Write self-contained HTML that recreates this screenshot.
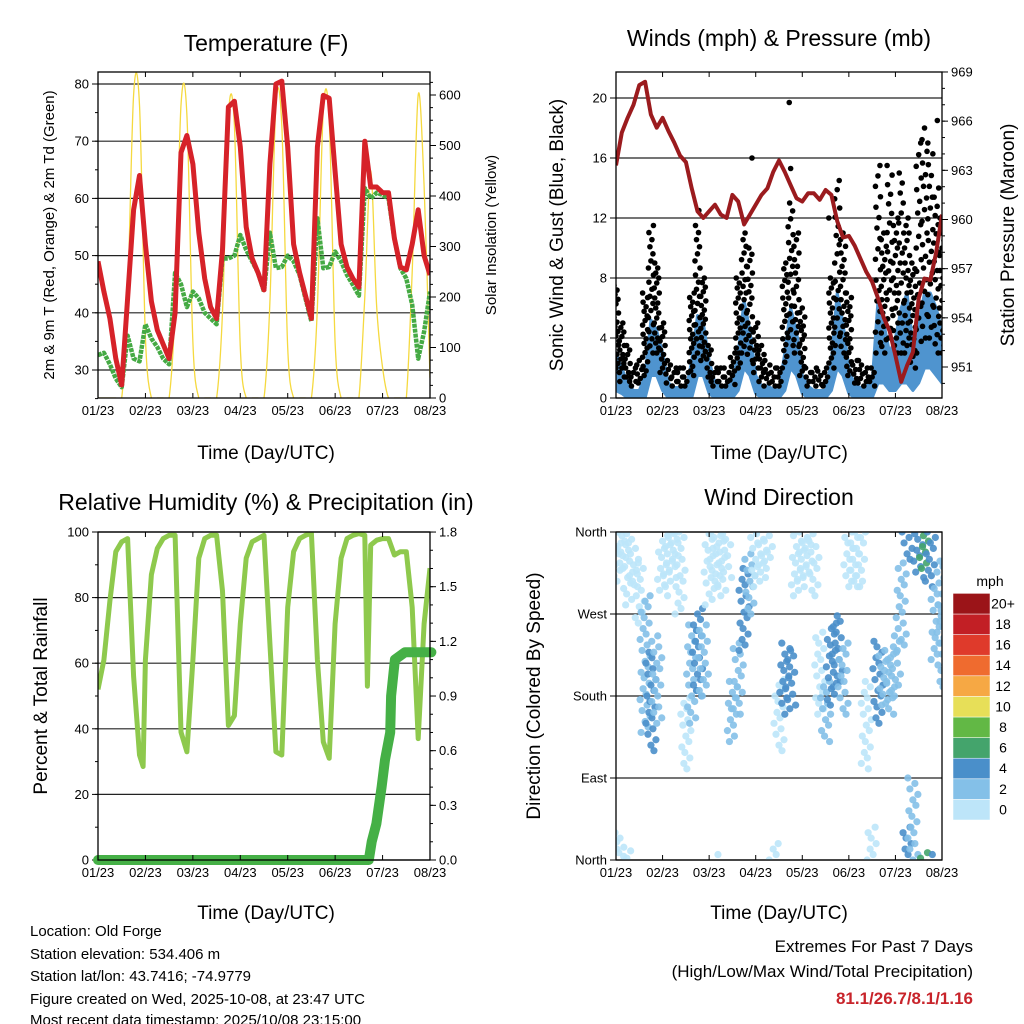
<!DOCTYPE html>
<html><head><meta charset="utf-8">
<style>
html,body{margin:0;padding:0;background:#fff;}
svg{display:block;font-family:"Liberation Sans",Arial,sans-serif;}
</style></head>
<body>
<svg id="root" width="1024" height="1024" viewBox="0 0 1024 1024" xmlns="http://www.w3.org/2000/svg">
<defs>
<clipPath id="c1"><rect x="98" y="72" width="332" height="326"/></clipPath>
<clipPath id="c2"><rect x="616" y="72" width="326" height="326"/></clipPath>
<clipPath id="c3"><rect x="98" y="532" width="332" height="328"/></clipPath>
<clipPath id="c4"><rect x="616" y="532" width="326" height="328"/></clipPath>
</defs>
<text x="266" y="51" font-size="23" text-anchor="middle">Temperature (F)</text>
<text x="779" y="46" font-size="23" text-anchor="middle">Winds (mph) &amp; Pressure (mb)</text>
<text x="266" y="510" font-size="23" text-anchor="middle">Relative Humidity (%) &amp; Precipitation (in)</text>
<text x="779" y="505" font-size="23" text-anchor="middle">Wind Direction</text>
<text transform="translate(54,235) rotate(-90)" font-size="15" text-anchor="middle">2m &amp; 9m T (Red, Orange) &amp; 2m Td (Green)</text>
<text transform="translate(496,235) rotate(-90)" font-size="15" text-anchor="middle">Solar Insolation (Yellow)</text>
<text transform="translate(563,235) rotate(-90)" font-size="19" text-anchor="middle">Sonic Wind &amp; Gust (Blue, Black)</text>
<text transform="translate(1014,235) rotate(-90)" font-size="19" text-anchor="middle">Station Pressure (Maroon)</text>
<text transform="translate(47,696) rotate(-90)" font-size="19" text-anchor="middle">Percent &amp; Total Rainfall</text>
<text transform="translate(540,696) rotate(-90)" font-size="19" text-anchor="middle">Direction (Colored By Speed)</text>
<text x="266" y="459" font-size="19" text-anchor="middle">Time (Day/UTC)</text>
<text x="779" y="459" font-size="19" text-anchor="middle">Time (Day/UTC)</text>
<text x="266" y="919" font-size="19" text-anchor="middle">Time (Day/UTC)</text>
<text x="779" y="919" font-size="19" text-anchor="middle">Time (Day/UTC)</text>
<g font-size="15">
<text x="30" y="936">Location: Old Forge</text>
<text x="30" y="959">Station elevation: 534.406 m</text>
<text x="30" y="981">Station lat/lon: 43.7416; -74.9779</text>
<text x="30" y="1004">Figure created on Wed, 2025-10-08, at 23:47 UTC</text>
<text x="30" y="1025">Most recent data timestamp: 2025/10/08 23:15:00</text>
</g>
<text x="973" y="952" font-size="17" text-anchor="end">Extremes For Past 7 Days</text>
<text x="973" y="977" font-size="17" text-anchor="end">(High/Low/Max Wind/Total Precipitation)</text>
<text x="973" y="1004" font-size="17" font-weight="bold" fill="#c8242b" text-anchor="end">81.1/26.7/8.1/1.16</text>
<text x="990" y="586" font-size="14" text-anchor="middle">mph</text>
</svg>
<script>
// ---- data (3-hourly, days 0..7) ----
const dayLabels = ["01/23","02/23","03/23","04/23","05/23","06/23","07/23","08/23"];
const tempRed = [49,43.7,39,32,27.4,42.5,58,64, 52,42,37,34.5,32,40,68,71, 66,54,46,41,39,51,76,77, 69,55,49.5,47,44,66,80,80.5, 69,52,47,43,39,69,78,77.5, 64.7,52,48,46,44.5,70,62,62, 61,61,53,48,47.5,52,58,50, 46.6];
const dewGreen = [32.6,33,31,28.5,27,36,32,31.5, 38,35.5,34,32,31,47,45,41, 43.7,42.5,40,39,38,49.5,49.5,50, 53.6,51,49,47,43.7,54,47.8,48, 50,49,46.6,42.5,38.5,56.5,47.8,48, 50.7,49,46.6,44.9,43,61.8,60,61, 60.6,60,53,47.8,46,41.4,32,36.7, 43.7];
const solar = [0,0,0,0,0,200,600,580, 120,0,0,0,0,180,580,560, 110,0,0,0,0,170,560,540, 100,0,0,0,0,190,580,540, 100,0,0,0,0,180,570,550, 110,0,0,0,0,200,450,180, 60,0,0,0,0,250,600,420, 40];
const pressure = [963.3,965.3,966.2,967,968.2,968.4,966.4,965.6, 966.2,965.4,964.7,963.9,963.5,961.9,960.5,960.1, 960.5,960.9,960.3,960.1,961.5,961.1,959.7,960.3, 960.9,961.5,961.9,962.9,963.6,962.9,962.1,961.3, 961.1,961.6,961.6,961.2,961.8,961.5,959.9,958.9, 959.0,958.4,957.6,956.8,956.2,955.2,954,953.2, 951.7,950.1,951.1,951.9,955.2,956.4,956.3,958.0, 960.3];
const windHi = [3,2,1,0.5,0.5,1.5,5.2,4.5, 3,1,0.7,0.7,0.5,2.5,5.5,5, 2.5,1,0.8,0.8,1,3,6.5,4.5, 1.5,0.8,0.8,0.6,0.5,3,6,4.5, 1.5,0.8,0.5,0.5,0.5,2.5,7,5, 2,0.8,0.7,0.8,1,6.5,5,3, 4,6,7,3.5,5,7,7,6, 4.5];
const windLo = [0.5,0.3,0,0,0,0,1.5,1.5, 0.5,0,0,0,0,0,1.5,1.5, 0.3,0,0,0,0,0.5,2,1.5, 0.3,0,0,0,0,0.5,2,1.5, 0.3,0,0,0,0,0.5,2,1.5, 0.3,0,0,0,0,1,1,0.5, 0.5,1,1,0.5,1,2,2,1.5, 1];
const gustHi = [7.5,5,3.5,2,2.5,7,11.5,9, 5,2.5,2,2,2,7,11.5,8, 3.5,2,2,2,3,8,11,10, 5,3.5,2.5,2,2,9,13,11, 6,2,2,1.8,2,8,14.5,11, 7,2.5,2.5,2,2,15.5,11,15.5, 12,15,12,9,17,18,17,14, 12];
const gustLo = [2,1,1,0.8,0.8,1.5,3,3, 1.5,0.8,0.8,0.8,0.8,1.5,3,2.5, 1,0.8,0.8,0.8,0.8,2,3,2.5, 1.5,0.8,0.8,0.8,0.8,2,3.5,3, 1.5,0.8,0.8,0.8,0.8,2,3.5,3, 1.5,0.8,0.8,0.8,0.8,3,3,4, 3,3,3,2,3,4,4,3, 3];
const gustOutDay = [3.72,2.92,3.75,1.78,4.57,6.9];
const gustOutVal = [19.7,16,15.3,12.5,12,18.5];
const rhDays = [0,0.125,0.25,0.375,0.5,0.625,0.75,0.875,0.95,1.0,1.125,1.25,1.375,1.5,1.625,1.75,1.875,2.0,2.125,2.25,2.375,2.5,2.625,2.75,2.875,3.0,3.125,3.25,3.375,3.5,3.625,3.75,3.875,4.0,4.125,4.25,4.375,4.5,4.625,4.75,4.875,5.0,5.125,5.25,5.375,5.5,5.625,5.68,5.75,5.875,6.0,6.125,6.25,6.375,6.5,6.625,6.75,6.875,7.0];
const rhVals = [52,61,79,94,97,98,56,32,28.5,61,87,95,98,99,99,39,33,61,92,98,99,99,82,41,44,72,92,97,98,99,66,33,32,77,94,98,99,99.6,61,36,31,72,92,98,99,99.5,99,53,96,97.5,98,98,93,94,94,77,37,72,89];
const precipDays = [0,5.71,5.77,5.87,5.98,6.05,6.16,6.18,6.26,6.47,7.03];
const precipVals = [0,0,0.1,0.2,0.4,0.55,0.7,0.9,1.1,1.14,1.14];
const dirLo = [300,320,280,300,260,140,120,150, 290,300,310,270,100,150,180,180, 280,300,290,310,130,160,230,270, 300,310,320,0,120,160,170,290, 300,310,290,160,130,170,190,160, 300,300,300,100,0,150,170,160, 180,230,330,0,310,320,300,220, 190];
const dirHi = [390,380,370,350,330,290,230,250, 360,360,360,360,180,260,280,260, 360,370,360,360,200,240,320,340, 360,360,360,20,200,240,230,360, 360,360,350,250,200,260,270,240, 360,360,360,200,40,240,230,230, 250,330,400,90,360,370,370,300, 330];
const dirSpd = [1,1,0.5,0.5,0.5,2,4,3, 0.5,0.5,0.3,0.3,1,3,4,3, 0.5,0.5,0.5,0.3,2,3,4,3, 1,0.5,0.3,0.3,1.5,4,4,1, 0.5,0.5,0.5,1.5,2,4,5,3, 0.5,0.5,1,1,1,4,3,3, 2,3,4,3,4,6,5,3, 2];
const speedLabels = ["0","2","4","6","8","10","12","14","16","18","20+"];
const speedColors = ["#bde5f9","#84c0e8","#4a8fca","#44a46c","#62b845","#e7df58","#f6a844","#ef6b2f","#df3a2b","#c21f25","#9b1418"];

const NS = "http://www.w3.org/2000/svg";
const root = document.getElementById("root");
function mk(tag, attrs, parent){ const e=document.createElementNS(NS,tag); for(const k in attrs) e.setAttribute(k,attrs[k]); (parent||root).appendChild(e); return e; }
function smooth(pts){ let d="M"+pts[0][0].toFixed(1)+","+pts[0][1].toFixed(1);
  for(let i=0;i<pts.length-1;i++){ const p0=pts[i-1]||pts[i], p1=pts[i], p2=pts[i+1], p3=pts[i+2]||p2;
    const c1=[p1[0]+(p2[0]-p0[0])/6, p1[1]+(p2[1]-p0[1])/6], c2=[p2[0]-(p3[0]-p1[0])/6, p2[1]-(p3[1]-p1[1])/6];
    d+=" C"+c1[0].toFixed(1)+","+c1[1].toFixed(1)+" "+c2[0].toFixed(1)+","+c2[1].toFixed(1)+" "+p2[0].toFixed(1)+","+p2[1].toFixed(1); }
  return d; }
function poly(pts){ return "M"+pts.map(p=>p[0].toFixed(1)+","+p[1].toFixed(1)).join(" L"); }
const step = i=>i/8;

// scales
const X1=d=>98+d*47.43, X2=d=>616+d*46.57;
const yT=v=>370-(v-30)*5.72, yS=v=>398-v*0.505;
const yW=v=>398-v*15, yP=v=>367-(v-951)*16.39;
const yR=v=>860-v*3.28, yPr=v=>860-v*182.2;
const yD=v=>860-v*0.9111;

function frame(x0,y0,x1,y1,name){
  const r=mk("rect",{x:x0,y:y0,width:x1-x0,height:y1-y0,fill:"none",stroke:"#000","stroke-width":1.3});
  
  
}
function xAxis(X,y0,y1,name){
  const g=mk("g",{});
  
  
  dayLabels.forEach((lab,i)=>{ const x=X(i);
    mk("line",{x1:x,x2:x,y1:y1,y2:y1-5,stroke:"#000","stroke-width":1},g);
    mk("line",{x1:x,x2:x,y1:y0,y2:y0+5,stroke:"#000","stroke-width":1},g);
    const t=mk("text",{x:x,y:y1+17,"font-size":13,"text-anchor":"middle"},g); t.textContent=lab; });
}
function yAxis(ticks, minors, Y, x, side, grid, x0, x1, name, fmt){
  const g=mk("g",{});
  
  
  const dir = side==="left"?-1:1;
  minors.forEach(v=>{ const y=Y(v); mk("line",{x1:x,x2:x+dir*3,y1:y,y2:y,stroke:"#000","stroke-width":1},g); });
  ticks.forEach(v=>{ const y=Y(v);
    if(grid) mk("line",{x1:x0,x2:x1,y1:y,y2:y,stroke:"#222","stroke-width":1.2},g);
    mk("line",{x1:x,x2:x+dir*6,y1:y,y2:y,stroke:"#000","stroke-width":1},g);
    const t=mk("text",{x:x+dir*9,y:y+4.5,"font-size":13,"text-anchor":side==="left"?"end":"start"},g);
    t.textContent=fmt?fmt(v):String(v); });
}
const range=(a,b,s)=>{const r=[];for(let v=a;v<=b+1e-9;v+=s)r.push(+v.toFixed(3));return r;};

// ===== Panel 1 =====
yAxis(range(30,80,10),range(25,80,5),yT,98,"left",true,98,430,"temperature-y-axis");
yAxis(range(0,600,100),range(0,625,25),yS,430,"right",false,0,0,"solar-y-axis");
const g1=mk("g",{"clip-path":"url(#c1)"});
const pSol=mk("path",{d:smooth(solar.map((v,i)=>[X1(step(i)),yS(v)])),fill:"none",stroke:"#f5d93f","stroke-width":1.3},g1);


const pDew=mk("path",{d:poly(dewGreen.map((v,i)=>[X1(step(i)),yT(v)])),fill:"none",stroke:"#45aa44","stroke-width":4.5,"stroke-dasharray":"4 1","stroke-linejoin":"round"},g1);


const pT=mk("path",{d:poly(tempRed.map((v,i)=>[X1(step(i)),yT(v)])),fill:"none",stroke:"#d62229","stroke-width":5,"stroke-linejoin":"round"},g1);


xAxis(X1,72,398,"temperature-x-axis");
frame(98,72,430,398,"temperature-plot-frame");

// ===== Panel 2 =====
yAxis(range(0,20,4),[],yW,616,"left",true,616,942,"wind-y-axis");
yAxis(range(951,969,3),range(950,969,1),yP,942,"right",false,0,0,"pressure-y-axis");
const g2=mk("g",{"clip-path":"url(#c2)"});
const bandTop=windHi.map((v,i)=>[X2(step(i)),yW(v)]), bandBot=windLo.map((v,i)=>[X2(step(i)),yW(v)]).reverse();
const band=mk("path",{d:"M"+bandTop.concat(bandBot).map(p=>p[0].toFixed(1)+","+p[1].toFixed(1)).join(" L")+"Z",fill:"#4f94cf",stroke:"#4f94cf","stroke-width":3,"stroke-linejoin":"round"},g2);


const gg=mk("g",{fill:"#000"},g2);


const offs=[-2,1,-1,2,0,-2.5,2.5];
gustHi.forEach((hi,i)=>{ const lo=gustLo[i]; const ya=yW(hi), yb=yW(lo); let k=i;
  const st=Math.max(4.5,(yb-ya)/18);
  for(let y=ya;y<=yb+0.1;y+=st){ mk("circle",{cx:X2(step(i))+offs[k%7],cy:y,r:2.8},gg); k++; } });
gustOutDay.forEach((d,i)=>{ mk("circle",{cx:X2(d),cy:yW(gustOutVal[i]),r:2.8},gg); });
const pPr=mk("path",{d:poly(pressure.map((v,i)=>[X2(step(i)),yP(v)])),fill:"none",stroke:"#9b1b1e","stroke-width":4,"stroke-linejoin":"round"},g2);


xAxis(X2,72,398,"winds-x-axis");
frame(616,72,942,398,"winds-plot-frame");

// ===== Panel 3 =====
yAxis(range(0,100,20),range(0,100,10),yR,98,"left",true,98,430,"humidity-y-axis");
yAxis(range(0,1.8,0.3),range(0,1.8,0.1),yPr,430,"right",false,0,0,"precip-y-axis",v=>v.toFixed(1));
const g3=mk("g",{"clip-path":"url(#c3)"});
const pRh=mk("path",{d:poly(rhDays.map((d,i)=>[X1(d),yR(rhVals[i])])),fill:"none",stroke:"#8ec94d","stroke-width":5,"stroke-linejoin":"round"},g3);


const pPc=mk("path",{d:poly(precipDays.map((d,i)=>[X1(d),yPr(precipVals[i])])),fill:"none",stroke:"#45b046","stroke-width":10,"stroke-linejoin":"round","stroke-linecap":"round"},root);


xAxis(X1,532,860,"humidity-x-axis");
frame(98,532,430,860,"humidity-plot-frame");

// ===== Panel 4 =====
const dirTicks=[0,90,180,270,360], dirNames=["North","East","South","West","North"];
yAxis(dirTicks,[],yD,616,"left",true,616,942,"direction-y-axis",v=>dirNames[dirTicks.indexOf(v)]);
const g4=mk("g",{"clip-path":"url(#c4)"});


const binColor=s=>speedColors[Math.min(10,Math.floor(s/2))];
const offs4=[-5,1,-2,4,-1,-4,3,0,5,-3,2];
dirLo.forEach((lo,i)=>{ const hi=dirHi[i]; let k=i;
  for(let v=lo; v<=hi; v+=6){ const dv=v>360?v-360:v;
    mk("circle",{cx:X2(step(i))+offs4[k%11],cy:yD(dv),r:3.6,fill:binColor(dirSpd[i]),"fill-opacity":0.9},g4); k++; } });
xAxis(X2,532,860,"direction-x-axis");
frame(616,532,942,860,"direction-plot-frame");

// legend
speedLabels.forEach((lab,i)=>{ const y=820-(i+1)*20.6;
  const r=mk("rect",{x:953,y:y,width:37,height:20.6,fill:speedColors[i],stroke:"#fff","stroke-width":0.5});
  
  
  const t=mk("text",{x:1003,y:y+15,"font-size":14,"text-anchor":"middle"});
  
  
  t.textContent=lab; });
</script>
</body></html>
